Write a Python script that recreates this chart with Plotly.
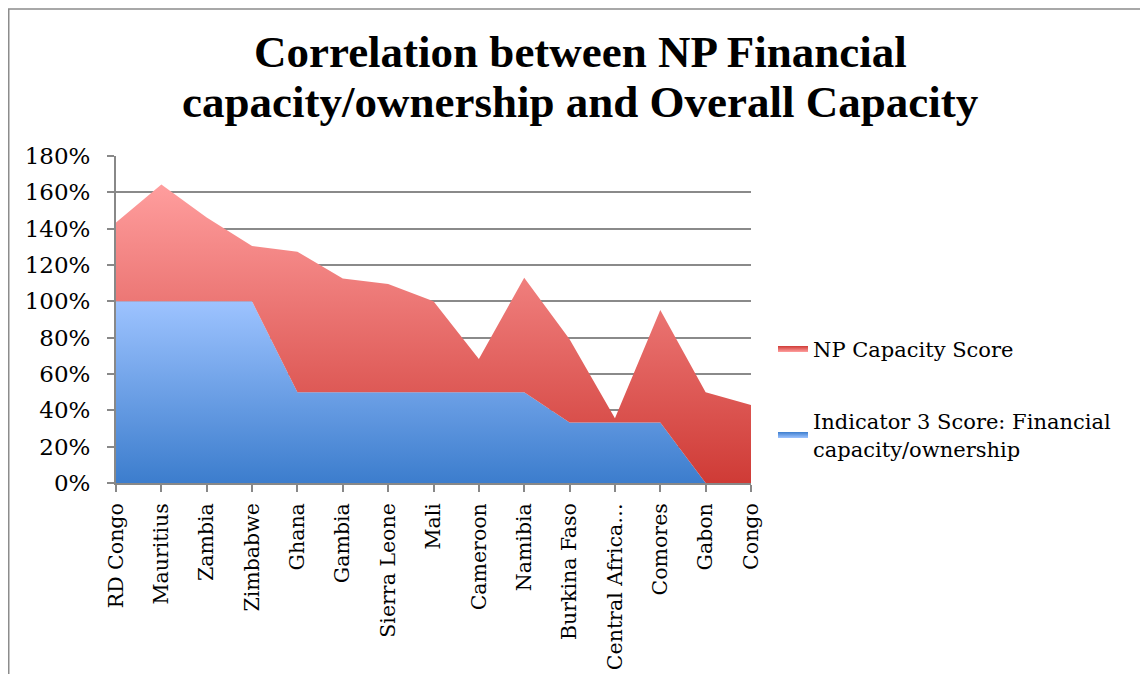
import plotly.graph_objects as go

countries = ["RD Congo", "Mauritius", "Zambia", "Zimbabwe", "Ghana", "Gambia",
             "Sierra Leone", "Mali", "Cameroon", "Namibia", "Burkina Faso",
             "Central Africa…", "Comores", "Gabon", "Congo"]
indicator3 = [1.0, 1.0, 1.0, 1.0, 0.5, 0.5, 0.5, 0.5, 0.5, 0.5, 0.333, 0.333, 0.333, 0.0, 0.0]
np_capacity = [0.434, 0.643, 0.462, 0.304, 0.773, 0.626, 0.595, 0.50, 0.183, 0.63, 0.458, 0.024, 0.619, 0.50, 0.43]
y_ticks = [0, 0.2, 0.4, 0.6, 0.8, 1.0, 1.2, 1.4, 1.6, 1.8]
title_lines = ["Correlation between NP Financial", "capacity/ownership and Overall Capacity"]

xs = list(range(len(countries)))
OFF = 8  # page body margin
W, H = 1148 - OFF, 674 - OFF
L, R, T, B = 116 - OFF, 751 - OFF, 156 - OFF, 483.3 - OFF
PW, PH = R - L, B - T


def px_x(sx):  # screenshot x -> paper x
    return (sx - OFF - L) / PW


def px_y(sy):  # screenshot y -> paper y
    return (B - (sy - OFF)) / PH


fig = go.Figure()
fig.add_trace(go.Scatter(
    x=xs, y=indicator3, name="Indicator 3 Score: Financial<br>capacity/ownership",
    stackgroup="one", mode="none", legendgroup="a", legendrank=2,
    fillgradient=dict(type="vertical", start=1.0, stop=0.0,
                      colorscale=[[0, "#9dc3ff"], [1, "#3c7dcd"]]),
))
fig.add_trace(go.Scatter(
    x=xs, y=np_capacity, name="NP Capacity Score",
    stackgroup="one", mode="none", legendgroup="b", legendrank=1,
    fillgradient=dict(type="vertical", start=1.65, stop=0.0,
                      colorscale=[[0, "#ff9e9e"], [1, "#cf3b36"]]),
))

serif = "DejaVu Serif"
annotations = []
for line, sy in zip(title_lines, [52, 102]):
    annotations.append(dict(text="<b>" + line + "</b>", xref="paper", yref="paper",
                            x=px_x(580), y=px_y(sy), xanchor="center", yanchor="middle",
                            showarrow=False,
                            font=dict(family="Liberation Serif", size=45, color="black")))

fig.update_layout(
    width=W, height=H,
    margin=dict(l=L, r=W - R, t=T, b=H - B),
    paper_bgcolor="white", plot_bgcolor="white",
    font=dict(family=serif, color="black"),
    showlegend=True,
    annotations=annotations,
    legend=dict(x=px_x(773), xanchor="left", y=px_y(329), yanchor="top",
                traceorder="grouped", font=dict(family=serif, size=21, color="black"),
                tracegroupgap=42, bgcolor="rgba(0,0,0,0)"),
    shapes=[dict(type="rect", xref="paper", yref="paper",
                 x0=(0.75 - L) / PW, x1=(W + 20 - L) / PW,
                 y0=(B - H - 20) / PH, y1=(B - 0.75) / PH,
                 line=dict(color="#8c8c8c", width=1.5), fillcolor="rgba(0,0,0,0)", layer="below")],
)
fig.update_xaxes(range=[0, len(countries) - 1], tickmode="array", tickvals=xs, ticktext=countries,
                 tickangle=-90, showgrid=False, showline=True, linecolor="#888", linewidth=2,
                 ticks="outside", ticklen=7, tickcolor="#888", tickwidth=1.5, automargin=False,
                 ticklabelstandoff=3,
                 tickfont=dict(family=serif, size=20.5, color="black"), zeroline=False)
fig.update_yaxes(range=[0, 1.8], tickmode="array", tickvals=y_ticks, tickformat=".0%",
                 showgrid=True, gridcolor="#8a8a8a", gridwidth=1.5,
                 showline=True, linecolor="#888", linewidth=2, automargin=False,
                 ticks="outside", ticklen=7, tickcolor="#888", tickwidth=1.5,
                 ticklabelstandoff=12,
                 tickfont=dict(family=serif, size=23, color="black"), zeroline=False)

fig.write_html("out.html")
